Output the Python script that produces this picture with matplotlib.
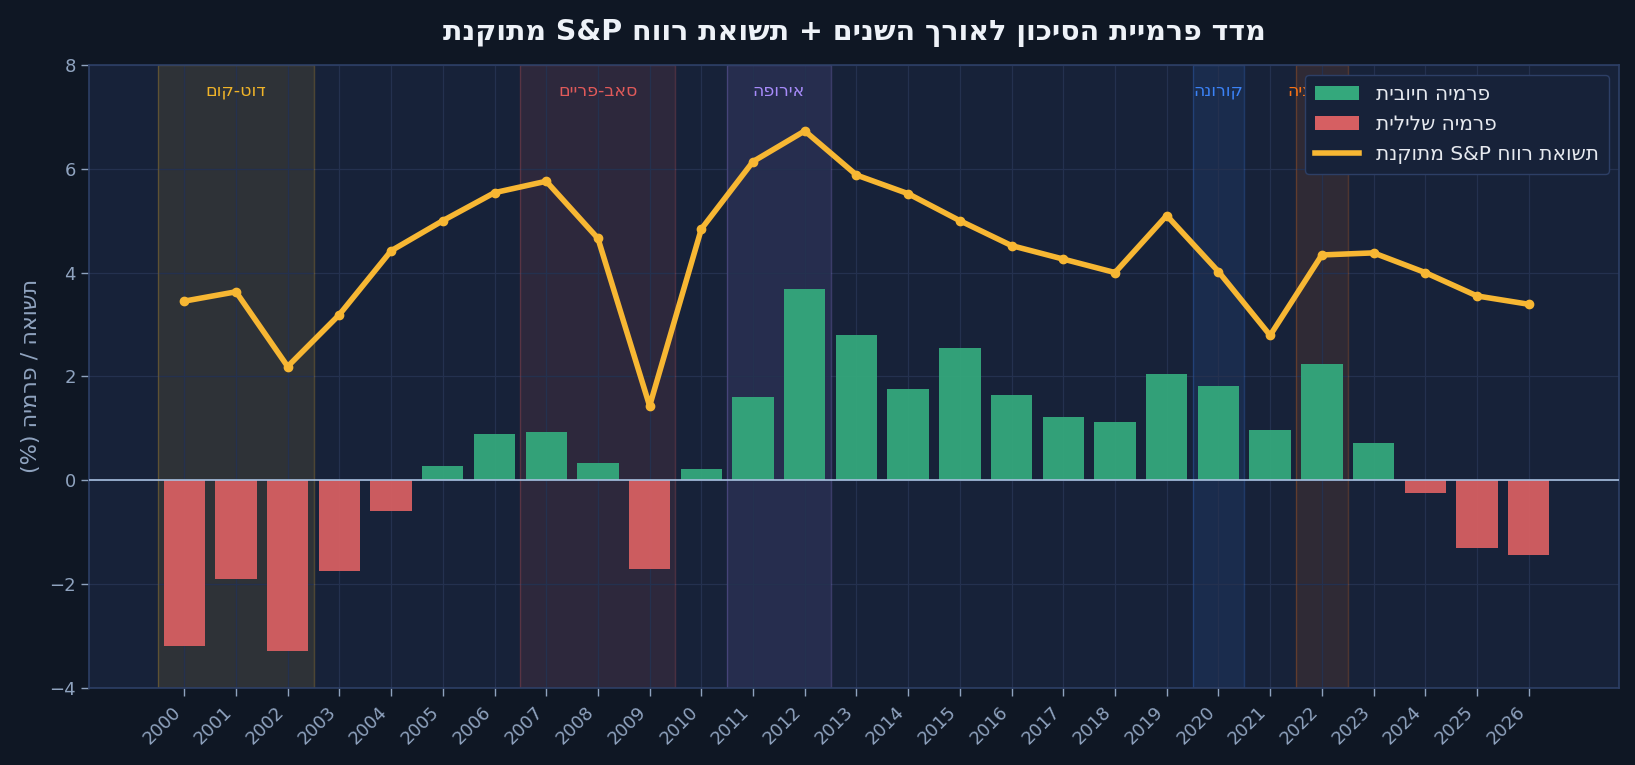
import re
import matplotlib
matplotlib.use("Agg")
import matplotlib.pyplot as plt
from matplotlib.patches import Patch
from matplotlib.lines import Line2D

plt.rcParams['font.family'] = ['DejaVu Sans']


def rtl(s):
    """Turn logical-order Hebrew text into visual order for matplotlib."""
    r = s[::-1]
    r = re.sub(r'[A-Za-z0-9&]+', lambda m: m.group(0)[::-1], r)
    r = r.translate(str.maketrans('()', ')('))
    return r


years = list(range(2000, 2027))
premium = [-3.2, -1.9, -3.3, -1.75, -0.6, 0.28, 0.88, 0.92, 0.34, -1.72,
           0.22, 1.6, 3.69, 2.79, 1.75, 2.55, 1.65, 1.22, 1.12, 2.05,
           1.81, 0.96, 2.23, 0.72, -0.24, -1.3, -1.45]
earnings_yield = [3.45, 3.63, 2.19, 3.19, 4.42, 5.0, 5.54, 5.76, 4.66, 1.43,
                  4.84, 6.14, 6.73, 5.88, 5.52, 5.0, 4.52, 4.26, 4.0, 5.1,
                  4.02, 2.79, 4.34, 4.38, 4.0, 3.55, 3.39]

crisis_names = ["דוט-קום", "סאב-פריים", "אירופה", "קורונה", "אינפלציה"]
crisis_start = [2000, 2007, 2011, 2020, 2022]
crisis_end = [2002, 2009, 2012, 2020, 2022]
crisis_colors = ["#f0b429", "#e05a5a", "#a78bfa", "#3b82f6", "#f97316"]

title = "מדד פרמיית הסיכון לאורך השנים + תשואת רווח S&P מתוקנת"
ylabel = "תשואה / פרמיה (%)"
lbl_pos = "פרמיה חיובית"
lbl_neg = "פרמיה שלילית"
lbl_line = "תשואת רווח S&P מתוקנת"

FIG_BG = "#0f1724"
AX_BG = "#172239"
GRID = "#24314f"
SPINE = "#2d3f66"
TICK = "#8fa3bf"
GREEN = "#34a87c"
RED = "#d65f62"
LINE = "#f7b733"

fig = plt.figure(figsize=(16.35, 7.65), dpi=100, facecolor=FIG_BG)
ax = fig.add_axes([0.0545, 0.101, 0.9355, 0.814])
ax.set_facecolor(AX_BG)

idx = {y: i for i, y in enumerate(years)}
x = list(range(len(years)))

for name, s, e, c in zip(crisis_names, crisis_start, crisis_end, crisis_colors):
    x0 = idx[s] - 0.5
    x1 = idx[e] + 0.5
    ax.axvspan(x0, x1, facecolor=c, alpha=0.11, zorder=0.5)
    ax.axvspan(x0, x1, facecolor="none", edgecolor=c, alpha=0.25, lw=1.0, zorder=0.6)
    ax.text((x0 + x1) / 2, 7.5, rtl(name), color=c, ha="center", va="center",
            fontsize=12.5, zorder=1)

ax.grid(True, color=GRID, lw=0.9, zorder=0.7)
ax.set_axisbelow(True)

bar_colors = [GREEN if v >= 0 else RED for v in premium]
ax.bar(x, premium, width=0.8, color=bar_colors, alpha=0.95, zorder=2)
ax.axhline(0, color="#a8c0e0", lw=1.2, zorder=3)
ax.plot(x, earnings_yield, color=LINE, lw=4, marker="o", markersize=6, zorder=4,
        solid_capstyle="round")

ax.set_xlim(-1.84, 27.74)
ax.set_ylim(-4, 8)
ax.set_xticks(x)
ax.set_xticklabels([str(y) for y in years], rotation=45, ha="right")
ax.set_yticks([-4, -2, 0, 2, 4, 6, 8])
ax.tick_params(colors=TICK, labelsize=13, length=6, width=1, labelcolor=TICK)
ax.tick_params(axis="x", pad=5)
for sp in ax.spines.values():
    sp.set_color(SPINE)
    sp.set_linewidth(1.2)

ax.set_ylabel(rtl(ylabel), color=TICK, fontsize=16, labelpad=6)
ax.set_title(rtl(title), color="#eef2f8", fontsize=20.5, fontweight="bold", pad=18)

handles = [Patch(facecolor=GREEN, label=rtl(lbl_pos)),
           Patch(facecolor=RED, label=rtl(lbl_neg)),
           Line2D([0], [0], color=LINE, lw=4, label=rtl(lbl_line))]
leg = ax.legend(handles=handles, loc="upper right", fontsize=14.5,
                facecolor=AX_BG, edgecolor=SPINE, framealpha=1.0,
                labelcolor="#e6e9ef", borderpad=0.5, handlelength=2.2,
                labelspacing=0.55)
leg.set_zorder(10)

fig.savefig("out.png", dpi=100, facecolor=FIG_BG)
